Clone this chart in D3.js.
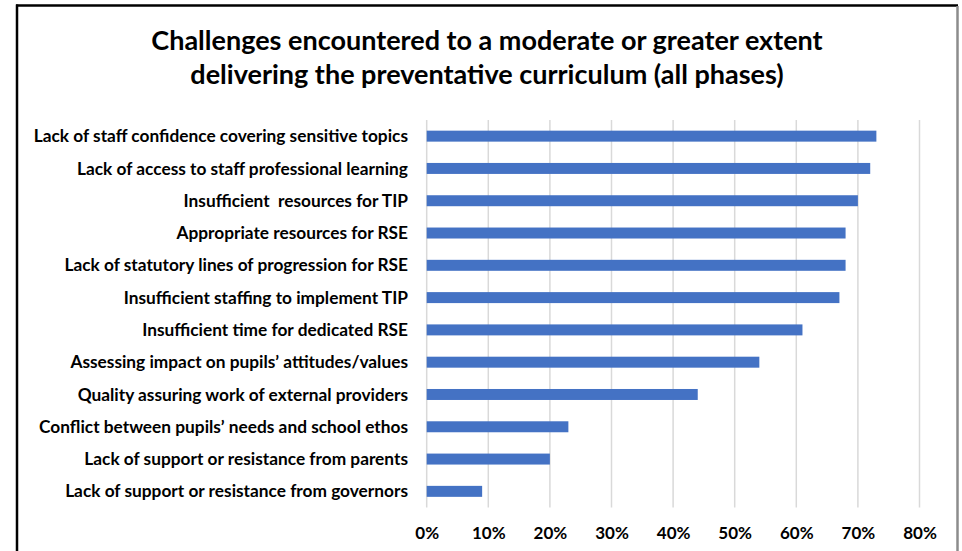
<!DOCTYPE html>
<html>
<head>
<meta charset="utf-8">
<script src="https://cdn.jsdelivr.net/npm/d3@7"></script>
<style>
  html, body { margin: 0; padding: 0; background: #fff; }
  svg { display: block; }
  text { font-family: Lato, "Open Sans", sans-serif; font-weight: 700; fill: #000; white-space: pre; }
</style>
</head>
<body>
<svg id="chart" width="962" height="551"></svg>
<script>
// Challenges, top to bottom, with share of schools reporting each
const categories = [
  "Lack of staff confidence covering sensitive topics",
  "Lack of access to staff professional learning",
  "Insufficient  resources for TIP",
  "Appropriate resources for RSE",
  "Lack of statutory lines of progression for RSE",
  "Insufficient staffing to implement TIP",
  "Insufficient time for dedicated RSE",
  "Assessing impact on pupils\u2019 attitudes/values",
  "Quality assuring work of external providers",
  "Conflict between pupils\u2019 needs and school ethos",
  "Lack of support or resistance from parents",
  "Lack of support or resistance from governors"
];
const values = [0.73, 0.72, 0.70, 0.68, 0.68, 0.67, 0.61, 0.54, 0.44, 0.23, 0.20, 0.09];
const xTicks = [0, 0.1, 0.2, 0.3, 0.4, 0.5, 0.6, 0.7, 0.8];
const titleLines = [
  "Challenges encountered to a moderate or greater extent",
  "delivering the preventative curriculum (all phases)"
];

const svg = d3.select("#chart");

// outer frame
svg.append("line").attr("x1", 16).attr("x2", 958).attr("y1", 5.5).attr("y2", 5.5)
  .attr("stroke", "#000").attr("stroke-width", 2.5);
svg.append("line").attr("x1", 17).attr("x2", 17).attr("y1", 4.5).attr("y2", 551)
  .attr("stroke", "#000").attr("stroke-width", 2.5);
svg.append("line").attr("x1", 957.5).attr("x2", 957.5).attr("y1", 6).attr("y2", 551)
  .attr("stroke", "#8c8c8c").attr("stroke-width", 2.5);

// title
svg.append("text")
  .attr("text-anchor", "middle")
  .attr("font-size", 27)
  .selectAll("tspan").data(titleLines).join("tspan")
  .attr("x", 487)
  .attr("y", (d, i) => 49.5 + i * 34)
  .text(d => d);

const x = d3.scaleLinear().domain([0, 0.8]).range([426.7, 919.5]);
const y = d3.scaleBand().domain(categories).range([120, 507.5]).paddingInner(0.66).paddingOuter(0.33);

// vertical gridlines
svg.append("g")
  .selectAll("line").data(xTicks).join("line")
  .attr("x1", d => x(d)).attr("x2", d => x(d))
  .attr("y1", 120).attr("y2", 507.5)
  .attr("stroke", "#d9d9d9").attr("stroke-width", 1.5);

// x axis labels
const xAxis = d3.axisBottom(x).tickValues(xTicks).tickFormat(d3.format(".0%")).tickSize(0).tickPadding(0);
const gx = svg.append("g").attr("transform", "translate(0,538.5)").call(xAxis);
gx.select(".domain").remove();
gx.selectAll("text").attr("dy", 0).attr("font-size", 17).attr("font-family", null).attr("fill", "#000");

// category labels
const yAxis = d3.axisLeft(y).tickSize(0).tickPadding(0);
const gy = svg.append("g").attr("transform", "translate(408,0)").call(yAxis);
gy.select(".domain").remove();
gy.selectAll("text").attr("font-size", 17.3).attr("font-family", null).attr("fill", "#000").attr("dy", "0.35em");

// bars
svg.append("g")
  .selectAll("rect").data(values).join("rect")
  .attr("x", x(0))
  .attr("y", (d, i) => y(categories[i]))
  .attr("width", d => x(d) - x(0))
  .attr("height", y.bandwidth())
  .attr("fill", "#4472c4");
</script>
</body>
</html>
